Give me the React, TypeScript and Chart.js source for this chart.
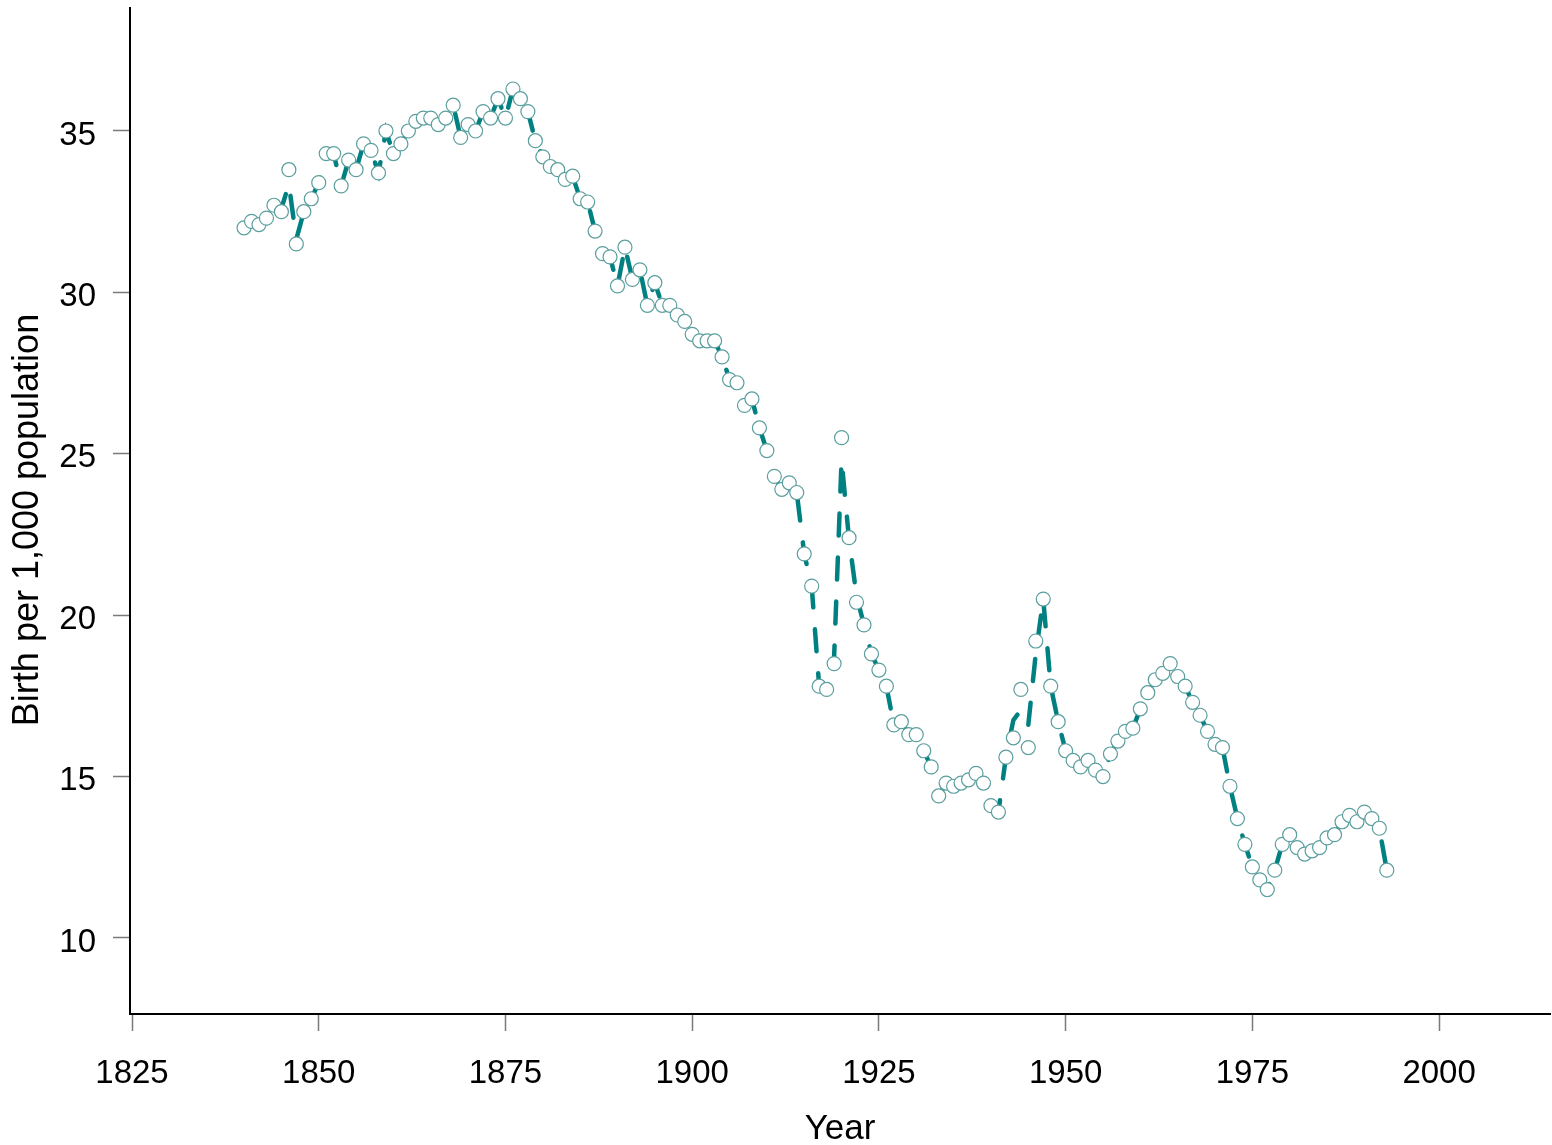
import React, { useEffect, useRef } from 'react';
import { Chart, registerables } from 'chart.js';

Chart.register(...registerables);

const years = [
  1840, 1841, 1842, 1843, 1844, 1845, 1846, 1847, 1848, 1849,
  1850, 1851, 1852, 1853, 1854, 1855, 1856, 1857, 1858, 1859,
  1860, 1861, 1862, 1863, 1864, 1865, 1866, 1867, 1868, 1869,
  1870, 1871, 1872, 1873, 1874, 1875, 1876, 1877, 1878, 1879,
  1880, 1881, 1882, 1883, 1884, 1885, 1886, 1887, 1888, 1889,
  1890, 1891, 1892, 1893, 1894, 1895, 1896, 1897, 1898, 1899,
  1900, 1901, 1902, 1903, 1904, 1905, 1906, 1907, 1908, 1909,
  1910, 1911, 1912, 1913, 1914, 1915, 1916, 1917, 1918, 1919,
  1920, 1921, 1922, 1923, 1924, 1925, 1926, 1927, 1928, 1929,
  1930, 1931, 1932, 1933, 1934, 1935, 1936, 1937, 1938, 1939,
  1940, 1941, 1942, 1943, 1944, 1945, 1946, 1947, 1948, 1949,
  1950, 1951, 1952, 1953, 1954, 1955, 1956, 1957, 1958, 1959,
  1960, 1961, 1962, 1963, 1964, 1965, 1966, 1967, 1968, 1969,
  1970, 1971, 1972, 1973, 1974, 1975, 1976, 1977, 1978, 1979,
  1980, 1981, 1982, 1983, 1984, 1985, 1986, 1987, 1988, 1989,
  1990, 1991, 1992, 1993,
];

// Observed birth rate (markers)
const birthRate = [
  32.0, 32.2, 32.1, 32.3, 32.7, 32.5, 33.8, 31.5, 32.5, 32.9,
  33.4, 34.3, 34.3, 33.3, 34.1, 33.8, 34.6, 34.4, 33.7, 35.0,
  34.3, 34.6, 35.0, 35.3, 35.4, 35.4, 35.2, 35.4, 35.8, 34.8,
  35.2, 35.0, 35.6, 35.4, 36.0, 35.4, 36.3, 36.0, 35.6, 34.7,
  34.2, 33.9, 33.8, 33.5, 33.6, 32.9, 32.8, 31.9, 31.2, 31.1,
  30.2, 31.4, 30.4, 30.7, 29.6, 30.3, 29.6, 29.6, 29.3, 29.1,
  28.7, 28.5, 28.5, 28.5, 28.0, 27.3, 27.2, 26.5, 26.7, 25.8,
  25.1, 24.3, 23.9, 24.1, 23.8, 21.9, 20.9, 17.8, 17.7, 18.5,
  25.5, 22.4, 20.4, 19.7, 18.8, 18.3, 17.8, 16.6, 16.7, 16.3,
  16.3, 15.8, 15.3, 14.4, 14.8, 14.7, 14.8, 14.9, 15.1, 14.8,
  14.1, 13.9, 15.6, 16.2, 17.7, 15.9, 19.2, 20.5, 17.8, 16.7,
  15.8, 15.5, 15.3, 15.5, 15.2, 15.0, 15.7, 16.1, 16.4, 16.5,
  17.1, 17.6, 18.0, 18.2, 18.5, 18.1, 17.8, 17.3, 16.9, 16.4,
  16.0, 15.9, 14.7, 13.7, 12.9, 12.2, 11.8, 11.5, 12.1, 12.9,
  13.2, 12.8, 12.6, 12.7, 12.8, 13.1, 13.2, 13.6, 13.8, 13.6,
  13.9, 13.7, 13.4, 12.1,
];

// Fitted curve (dashed line), slightly damped at the sharpest peaks
const fittedRate = [
  32.0, 32.2, 32.1, 32.3, 32.7, 32.6, 33.35, 31.65, 32.5, 32.9,
  33.4, 34.3, 34.3, 33.3, 34.1, 33.8, 34.6, 34.4, 33.7, 35.0,
  34.3, 34.6, 35.0, 35.3, 35.4, 35.4, 35.2, 35.4, 35.8, 34.8,
  35.2, 35.0, 35.6, 35.4, 36.0, 35.4, 36.3, 36.0, 35.6, 34.7,
  34.2, 33.9, 33.8, 33.5, 33.6, 32.9, 32.8, 31.9, 31.2, 31.1,
  30.2, 31.4, 30.4, 30.7, 29.6, 30.3, 29.6, 29.6, 29.3, 29.1,
  28.7, 28.5, 28.5, 28.5, 28.0, 27.3, 27.2, 26.5, 26.7, 25.8,
  25.1, 24.3, 23.9, 24.1, 23.8, 21.9, 20.9, 17.8, 17.7, 18.7,
  24.8, 22.35, 20.6, 19.7, 18.8, 18.3, 17.8, 16.6, 16.7, 16.3,
  16.3, 15.8, 15.3, 14.4, 14.8, 14.7, 14.8, 14.9, 15.1, 14.8,
  14.1, 13.9, 15.6, 16.75, 17.05, 16.6, 18.8, 20.5, 17.8, 16.7,
  15.8, 15.5, 15.3, 15.5, 15.2, 15.0, 15.7, 16.1, 16.4, 16.5,
  17.1, 17.6, 18.0, 18.2, 18.5, 18.1, 17.8, 17.3, 16.9, 16.4,
  16.0, 15.9, 14.7, 13.7, 12.9, 12.2, 11.8, 11.5, 12.1, 12.9,
  13.2, 12.8, 12.6, 12.7, 12.8, 13.1, 13.2, 13.6, 13.8, 13.6,
  13.9, 13.7, 13.4, 12.1,
];

const xTickValues = [1825, 1850, 1875, 1900, 1925, 1950, 1975, 2000];
const yTickValues = [10, 15, 20, 25, 30, 35];

const xTitle = 'Year';
const yTitle = 'Birth per 1,000 population\u2002';

const FONT = "'Liberation Sans', Arial, Helvetica, sans-serif";

const zeroPadding = (scale: any) => {
  scale.paddingTop = 0;
  scale.paddingBottom = 0;
  scale.paddingLeft = 0;
  scale.paddingRight = 0;
};

export default function App() {
  const canvasRef = useRef<HTMLCanvasElement | null>(null);

  useEffect(() => {
    const canvas = canvasRef.current;
    if (!canvas) return;
    const chart = new Chart(canvas, {
      type: 'line',
      data: {
        datasets: [
          {
            label: 'Observed',
            data: years.map((yr, i) => ({ x: yr, y: birthRate[i] })),
            showLine: false,
            pointRadius: 7,
            pointHoverRadius: 7,
            pointBackgroundColor: '#ffffff',
            pointBorderColor: '#5b9e9e',
            pointBorderWidth: 1.2,
            borderColor: '#5b9e9e',
            backgroundColor: '#ffffff',
          },
          {
            label: 'Fit',
            data: years.map((yr, i) => ({ x: yr, y: fittedRate[i] })),
            borderColor: '#008080',
            backgroundColor: '#008080',
            borderWidth: 4.5,
            borderDash: [22, 22],
            borderCapStyle: 'round',
            pointRadius: 0,
            pointHoverRadius: 0,
            tension: 0,
            fill: false,
          },
        ],
      },
      options: {
        responsive: false,
        animation: false,
        devicePixelRatio: 1,
        layout: { autoPadding: false, padding: { top: 8, right: 2, left: 0, bottom: 0 } },
        plugins: {
          legend: { display: false },
          tooltip: { enabled: false },
        },
        scales: {
          x: {
            type: 'linear',
            min: 1824.73,
            max: 2014.85,
            afterBuildTicks: (scale: any) => {
              scale.ticks = xTickValues.map((v) => ({ value: v }));
            },
            afterFit: (scale: any) => {
              scale.height = 131;
              zeroPadding(scale);
            },
            ticks: {
              callback: (v: any) => String(v),
              font: { size: 33, family: FONT },
              color: '#000000',
              padding: 23,
              maxRotation: 0,
              autoSkip: false,
            },
            grid: {
              drawOnChartArea: false,
              drawTicks: true,
              tickLength: 17,
              tickColor: '#7a7a7a',
              tickWidth: 1.5,
            },
            border: { display: true, color: '#000000', width: 2 },
            title: {
              display: true,
              text: xTitle,
              font: { size: 35, family: FONT, lineHeight: 1 },
              color: '#000000',
              padding: { top: 0, bottom: -2 },
            },
          },
          y: {
            type: 'linear',
            min: 7.645,
            max: 38.81,
            afterBuildTicks: (scale: any) => {
              scale.ticks = yTickValues.map((v) => ({ value: v }));
            },
            afterFit: (scale: any) => {
              scale.width = 130;
              zeroPadding(scale);
            },
            ticks: {
              callback: (v: any) => ['', String(v)],
              font: { size: 33, family: FONT, lineHeight: '9px' },
              color: '#000000',
              padding: 17,
              autoSkip: false,
            },
            grid: {
              drawOnChartArea: false,
              drawTicks: true,
              tickLength: 17,
              tickColor: '#7a7a7a',
              tickWidth: 1.5,
            },
            border: { display: true, color: '#000000', width: 2 },
            title: {
              display: true,
              text: yTitle,
              font: { size: 36, family: FONT, lineHeight: 1 },
              color: '#000000',
              padding: { top: 10, bottom: 0 },
            },
          },
        },
      },
    } as any);
    return () => chart.destroy();
  }, []);

  return (
    <div style={{ position: 'absolute', left: 0, top: 0, width: 1552, height: 1145, background: '#ffffff' }}>
      <canvas ref={canvasRef} width={1552} height={1145} style={{ display: 'block', width: 1552, height: 1145 }} />
    </div>
  );
}
